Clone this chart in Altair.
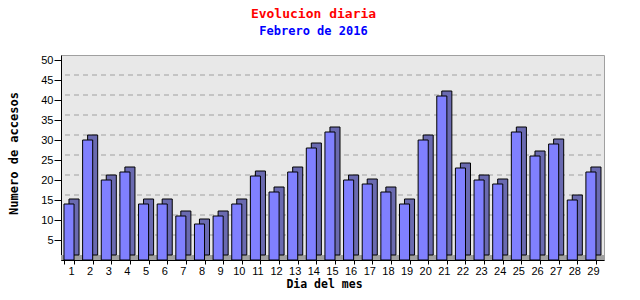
import altair as alt
import pandas as pd

dias = [str(d) for d in range(1, 30)]
accesos = [14, 30, 20, 22, 14, 14, 11, 9, 11, 14, 21, 17, 22, 28, 32,
           20, 19, 17, 14, 30, 41, 23, 20, 19, 32, 26, 29, 15, 22]
grid_vals = [5, 10, 15, 20, 25, 30, 35, 40, 45]
y_ticks = [5, 10, 15, 20, 25, 30, 35, 40, 45, 50]

df = pd.DataFrame({"dia": dias, "accesos": accesos})
gdf = pd.DataFrame({"v": grid_vals})

W, H = 543, 205
DEPTH = 5

xscale = alt.Scale(domain=dias, paddingInner=0.46, paddingOuter=0.295, align=0.27)
yscale = alt.Scale(domain=[0, 51.25], nice=False)

label_font = "Liberation Sans"
mono = "DejaVu Sans Mono"

xaxis = alt.Axis(title="Dia del mes", labelAngle=0, tickBand="extent",
                 labelFont=label_font, labelFontSize=11, labelColor="black",
                 labelOffset=2, labelPadding=1, tickSize=4, tickColor="black",
                 domainColor="black",
                 titleFont=mono, titleFontSize=11.5, titleFontWeight="bold",
                 titleColor="black", titleX=263, titleY=24,
                 titleBaseline="middle", titleAlign="center")
yaxis = alt.Axis(title="Numero de accesos", values=y_ticks, grid=False,
                 labelFont=label_font, labelFontSize=11, labelColor="black",
                 labelPadding=1, tickSize=7, tickColor="black",
                 domainColor="black",
                 titleFont=mono, titleFontSize=12, titleFontWeight="bold",
                 titleColor="black", titleAngle=270, titleX=-48, titleY=98,
                 titleBaseline="middle", titleAlign="center")

floor = alt.Chart(pd.DataFrame({"a": [0]})).mark_rect(color="#a0a0a0").encode(
    x=alt.value(0), x2=alt.value(W), y=alt.value(H - DEPTH), y2=alt.value(H)
)

grid = alt.Chart(gdf).mark_rule(color="#a0a0a0", strokeDash=[5, 4], strokeWidth=1, yOffset=-DEPTH).encode(
    y=alt.Y("v:Q", scale=yscale, axis=yaxis),
    x=alt.value(4), x2=alt.value(W),
)

back = alt.Chart(df).mark_bar(color="#6a6ab0", stroke="black", strokeWidth=1,
                              xOffset=DEPTH, yOffset=-DEPTH).encode(
    x=alt.X("dia:N", scale=xscale, sort=dias, axis=xaxis),
    y=alt.Y("accesos:Q", scale=yscale, axis=yaxis),
)

front = alt.Chart(df).mark_bar(color="#8080ff", stroke="black", strokeWidth=1).encode(
    x=alt.X("dia:N", scale=xscale, sort=dias, axis=xaxis),
    y=alt.Y("accesos:Q", scale=yscale, axis=yaxis),
)

chart = alt.layer(floor, grid, back, front).properties(
    width=W, height=H,
    autosize=alt.AutoSizeParams(type="none"),
    padding={"left": 61, "top": 55, "right": 36, "bottom": 40},
    title=alt.TitleParams(
        text="Evolucion diaria",
        subtitle="Febrero de 2016",
        font=mono, fontSize=13, fontWeight="bold", color="red",
        subtitleFont=mono, subtitleFontSize=12, subtitleFontWeight="bold",
        subtitleColor="blue", subtitlePadding=5,
        anchor="middle", dx=-19, offset=17,
    ),
).configure_view(fill="#e8e8e8", stroke="#a0a0a0", strokeWidth=1)

chart.save("out.html", embed_options={"renderer": "svg", "actions": False})
